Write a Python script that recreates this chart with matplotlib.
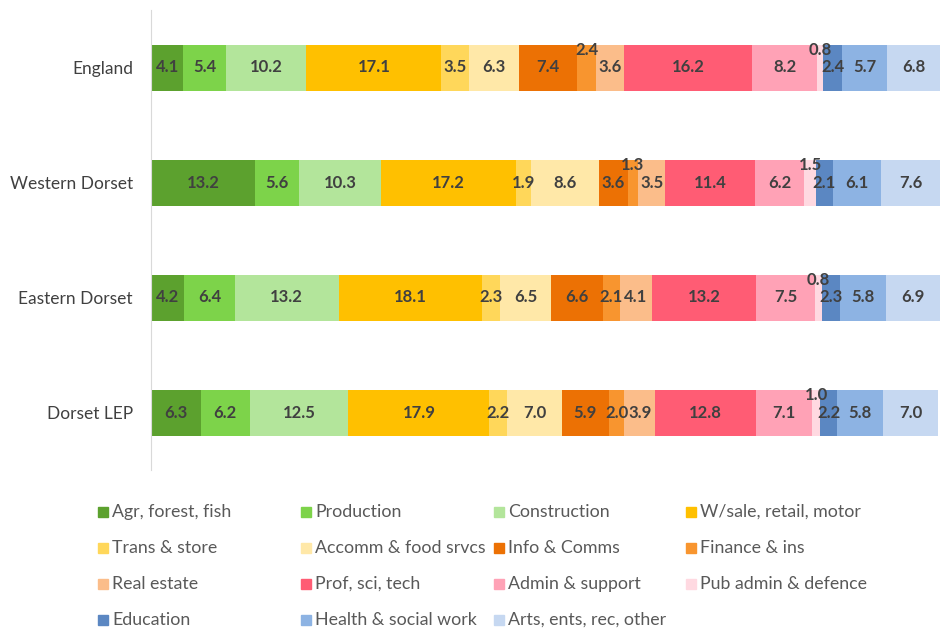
import numpy as np
import matplotlib
matplotlib.use('Agg')
import matplotlib.pyplot as plt
from matplotlib.patches import Rectangle

plt.rcParams['font.family'] = ['Lato', 'DejaVu Sans']

#Areas (top to bottom) and sectors
areas = ['England', 'Western Dorset', 'Eastern Dorset', 'Dorset LEP']
sectors = ['Agr, forest, fish', 'Production', 'Construction', 'W/sale, retail, motor',
           'Trans & store', 'Accomm & food srvcs', 'Info & Comms', 'Finance & ins',
           'Real estate', 'Prof, sci, tech', 'Admin & support', 'Pub admin & defence',
           'Education', 'Health & social work', 'Arts, ents, rec, other']

#Share of employment (%) per sector, one list per area
england = [4.1, 5.4, 10.2, 17.1, 3.5, 6.3, 7.4, 2.4, 3.6, 16.2, 8.2, 0.8, 2.4, 5.7, 6.8]
western_dorset = [13.2, 5.6, 10.3, 17.2, 1.9, 8.6, 3.6, 1.3, 3.5, 11.4, 6.2, 1.5, 2.1, 6.1, 7.6]
eastern_dorset = [4.2, 6.4, 13.2, 18.1, 2.3, 6.5, 6.6, 2.1, 4.1, 13.2, 7.5, 0.8, 2.3, 5.8, 6.9]
dorset_lep = [6.3, 6.2, 12.5, 17.9, 2.2, 7.0, 5.9, 2.0, 3.9, 12.8, 7.1, 1.0, 2.2, 5.8, 7.0]

colours = ['#5ca12e', '#7dd34a', '#b3e59b', '#ffc000',
           '#ffd75a', '#ffe8a8', '#ec7104', '#f8952f',
           '#fbbd8a', '#ff5c74', '#ffa2b6', '#ffd9e1',
           '#5b87c2', '#8db3e3', '#c6d8f1']

#labels that sit raised above the bar (area index, sector index)
raised = [(0, 7), (0, 11), (1, 7), (1, 11), (2, 11), (3, 11)]

data = np.array([england, western_dorset, eastern_dorset, dorset_lep])
y = np.arange(len(areas))

W, H = 940, 632
fig = plt.figure(figsize=(W/100, H/100), dpi=100)
ax = fig.add_axes([151/W, 1 - 470/H, 789/W, 460/H])

left = np.zeros(len(areas))
for j, sec in enumerate(sectors):
    vals = data[:, j]
    ax.barh(y, vals, left=left, height=0.4, color=colours[j], label=sec)
    for i in range(len(areas)):
        xc = left[i] + vals[i] / 2
        yc = y[i] - 0.15 if (i, j) in raised else y[i]
        ax.text(xc, yc, '%.1f' % vals[i], ha='center', va='center',
                fontsize=12, fontweight='bold', color='#404040')
    left = left + vals

ax.set_xlim(0, 100)
ax.set_ylim(3.5, -0.5)
ax.set_yticks(y)
ax.set_yticklabels(areas, fontsize=12.5, color='#404040')
ax.tick_params(axis='y', length=0, pad=13)
ax.set_xticks([])
for s in ['top', 'right', 'bottom']:
    ax.spines[s].set_visible(False)
ax.spines['left'].set_color('#d9d9d9')

#legend drawn row by row, 4 columns
col_x = [98, 301, 494, 686]
for k, sec in enumerate(sectors):
    row, col = divmod(k, 4)
    x0 = col_x[col]
    yc = 512 + row * 36
    fig.patches.append(Rectangle((x0/W, 1 - (yc + 5)/H), 10/W, 10/H,
                                 transform=fig.transFigure, color=colours[k]))
    fig.text((x0 + 14)/W, 1 - yc/H, sec, fontsize=12.8, color='#595959',
             ha='left', va='center')

fig.savefig('out.png', dpi=100)
